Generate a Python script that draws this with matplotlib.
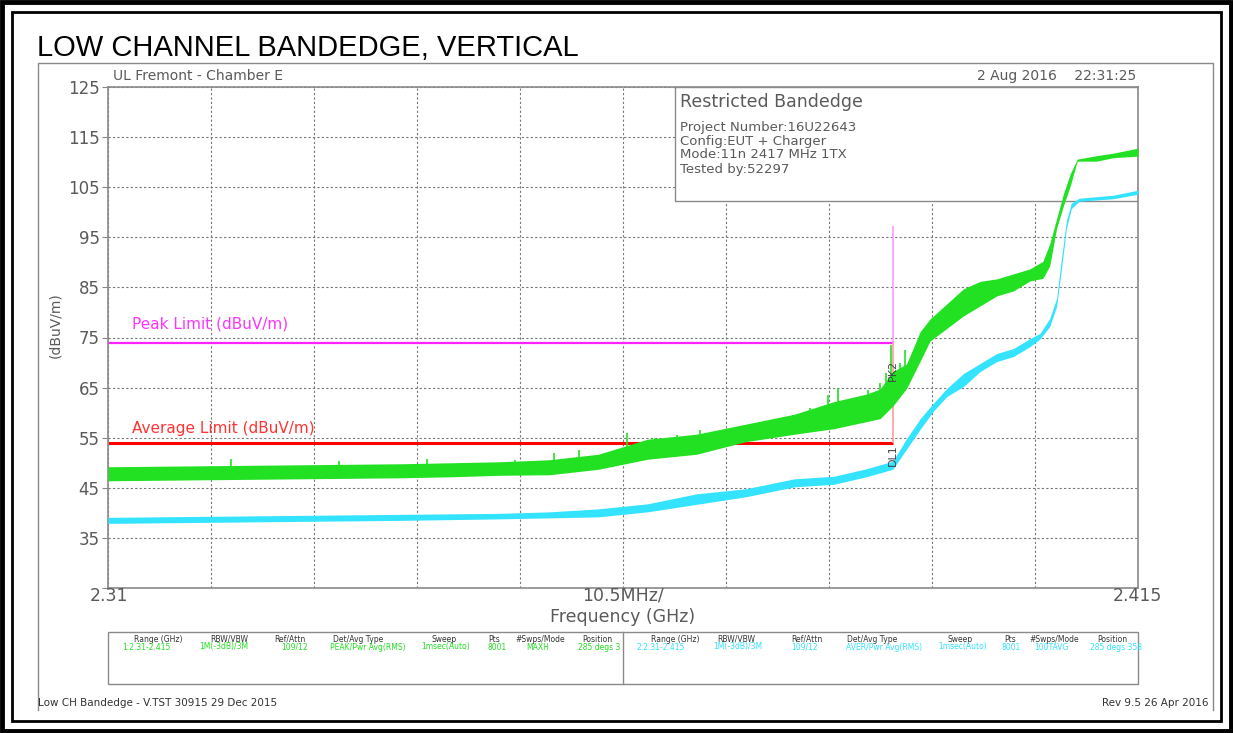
import numpy as np
import matplotlib.pyplot as plt
from matplotlib.patches import Rectangle
from matplotlib.lines import Line2D

# peak trace (green) band: lower / upper edge
peak_freq = [2.310, 2.315, 2.320, 2.325, 2.330, 2.335, 2.340, 2.345, 2.350, 2.355,
             2.360, 2.365, 2.370, 2.375, 2.380, 2.384, 2.3873, 2.3887, 2.390, 2.3914,
             2.3928, 2.3938, 2.3955, 2.3972, 2.3989, 2.4006, 2.4023, 2.404, 2.4053, 2.406,
             2.4067, 2.4074, 2.4081, 2.4088, 2.4108, 2.4125, 2.415]
peak_lo = [46.4, 46.5, 46.6, 46.7, 46.8, 46.9, 47.0, 47.2, 47.5, 47.6,
           48.7, 50.7, 51.7, 54.2, 55.7, 56.8, 58.2, 58.8, 61.3, 64.8,
           70.3, 74.3, 76.8, 79.3, 81.3, 83.3, 84.3, 86.3, 86.8, 89.3,
           96.8, 101.3, 105.3, 110.2, 110.2, 110.9, 111.2]
peak_hi = [49.2, 49.3, 49.4, 49.5, 49.6, 49.7, 49.8, 50.0, 50.2, 50.6,
           51.7, 54.7, 55.7, 57.7, 59.7, 62.2, 63.7, 64.7, 68.2, 69.7,
           76.2, 78.7, 81.7, 84.7, 86.2, 86.7, 87.7, 88.7, 90.2, 93.7,
           98.7, 103.7, 107.7, 110.6, 111.3, 111.8, 112.8]
# isolated spikes above the green band
spike_freq = [2.3225, 2.3335, 2.3425, 2.3515, 2.3555, 2.358, 2.3629, 2.3658, 2.368, 2.3704,
              2.374, 2.3775, 2.3798, 2.3816, 2.3834, 2.3844, 2.3863, 2.3875, 2.3887, 2.3893,
              2.3898, 2.3907, 2.3912]
spike_top = [50.7, 50.3, 50.8, 50.5, 52.0, 52.5, 56.0, 55.0, 55.5, 56.5,
             57.0, 58.0, 59.5, 61.0, 63.5, 65.0, 62.5, 64.5, 66.0, 68.0,
             73.5, 70.0, 72.5]

# average trace (cyan)
avg_freq = [2.310, 2.320, 2.330, 2.340, 2.350, 2.355, 2.360, 2.365, 2.370, 2.375,
            2.380, 2.384, 2.3873, 2.390, 2.3914, 2.3928, 2.3941, 2.3955, 2.3972, 2.3989,
            2.4006, 2.4023, 2.404, 2.405, 2.406, 2.4067, 2.4072, 2.4077, 2.4082, 2.409,
            2.4125, 2.415]
avg_lo = [37.9, 38.1, 38.3, 38.5, 38.8, 39.0, 39.2, 40.2, 41.7, 43.2,
          45.2, 45.7, 47.2, 48.7, 52.7, 56.7, 60.2, 63.2, 65.2, 68.2,
          70.2, 71.2, 73.2, 74.7, 77.2, 81.2, 88.7, 96.7, 100.7, 102.2,
          102.7, 103.6]
avg_hi = [39.1, 39.3, 39.5, 39.7, 39.9, 40.2, 40.8, 41.8, 43.8, 44.8,
          46.8, 47.3, 48.8, 50.3, 54.8, 58.8, 61.8, 64.8, 67.8, 69.8,
          71.8, 72.8, 74.8, 75.8, 78.8, 82.8, 90.8, 98.3, 101.8, 102.8,
          103.4, 104.4]

peak_limit = 74
avg_limit = 54
band_edge = 2.39
y_ticks = list(range(25, 126, 10))

left_cols = [("Range (GHz)", "1:2.31-2.415", 158, 146), ("RBW/VBW", "1M(-3dB)/3M", 229, 224),
             ("Ref/Attn", "109/12", 290, 295), ("Det/Avg Type", "PEAK/Pwr Avg(RMS)", 358, 368),
             ("Sweep", "1msec(Auto)", 444, 446), ("Pts", "8001", 494, 497),
             ("#Swps/Mode", "MAXH", 540, 538), ("Position", "285 degs 3", 597, 599)]
right_cols = [("Range (GHz)", "2:2.31-2.415", 675, 661), ("RBW/VBW", "1M(-3dB)/3M", 736, 738),
              ("Ref/Attn", "109/12", 807, 805), ("Det/Avg Type", "AVER/Pwr Avg(RMS)", 872, 884),
              ("Sweep", "1msec(Auto)", 960, 963), ("Pts", "8001", 1010, 1011),
              ("#Swps/Mode", "100TAVG", 1054, 1051), ("Position", "285 degs 358", 1112, 1116)]

W, H = 1233, 733
GREEN = "#22e022"
CYAN = "#33e3ff"
GREY = "#5a5a5a"


def fx(x):
    return x / W


def fy(y):
    return 1 - y / H


fig = plt.figure(figsize=(W / 100, H / 100), dpi=100)
fig.patch.set_facecolor("white")

# black double border
fig.patches.append(Rectangle((fx(2), fy(731)), fx(1229), 729 / H, transform=fig.transFigure,
                             fill=False, ec="black", lw=3.5))
fig.patches.append(Rectangle((fx(12), fy(721)), fx(1209), 709 / H, transform=fig.transFigure,
                             fill=False, ec="black", lw=2))
# grey panel frame
fig.lines.append(Line2D([fx(38), fx(38), fx(1213), fx(1213)], [fy(710), fy(63), fy(63), fy(710)],
                        transform=fig.transFigure, color="#8a8a8a", lw=1))

fig.text(fx(37), fy(48), "LOW CHANNEL BANDEDGE, VERTICAL", family="Liberation Sans",
         fontsize=21, va="center", ha="left", color="black")

ax = fig.add_axes([fx(108), fy(588), 1030 / W, 501 / H])
ax.set_xlim(2.31, 2.415)
ax.set_ylim(25, 125)
ax.set_xticks(np.linspace(2.31, 2.415, 11))
ax.set_xticklabels([])
ax.set_yticks(y_ticks)
ax.set_yticklabels(["" if v == 25 else str(v) for v in y_ticks], fontsize=12, color=GREY)
ax.tick_params(axis="y", length=4, color="#888888", pad=2)
ax.tick_params(axis="x", length=0)
ax.set_axisbelow(True)
ax.grid(color="#777777", ls=(0, (2, 2)), lw=0.8)
for s in ax.spines.values():
    s.set_color("#8a8a8a")
    s.set_linewidth(1.2)

# info box in the upper right corner
ax.add_patch(Rectangle(((675 - 108) / 1030, (588 - 201) / 501), 463 / 1030, 114 / 501,
                       transform=ax.transAxes, fc="white", ec="#8a8a8a", lw=1, zorder=1.5))

# limits
ax.hlines(peak_limit, 2.31, band_edge, color="#ff22ff", lw=1.6, zorder=2)
ax.hlines(avg_limit, 2.31, band_edge, color="#ff0000", lw=2.2, zorder=2)
ax.text(2.3124, 77.6, "Peak Limit (dBuV/m)", color="#ff33ff", fontsize=11, va="center")
ax.text(2.3124, 56.8, "Average Limit (dBuV/m)", color="#ff3333", fontsize=11, va="center")
ax.vlines(band_edge, peak_limit, 97.2, color="#ff99ff", lw=1.2, zorder=2)
ax.vlines(band_edge, avg_limit, peak_limit, color="#ff9c9c", lw=1.2, zorder=2)

# traces
ax.fill_between(avg_freq, avg_lo, avg_hi, color=CYAN, lw=0, zorder=3)
ax.fill_between(peak_freq, peak_lo, peak_hi, color=GREEN, lw=0, zorder=3)
spike_base = np.interp(spike_freq, peak_freq, peak_lo)
ax.vlines(spike_freq, spike_base, spike_top, color=GREEN, lw=1.2, zorder=3)

# marker labels sit on the band edge line
ax.text(band_edge, 68.5, "PK2", rotation=90, fontsize=8, color="#444444",
        ha="center", va="center", zorder=4)
ax.text(band_edge, 51.5, "DL1", rotation=90, fontsize=8, color="#444444",
        ha="center", va="center", zorder=4)

# header texts
fig.text(fx(113), fy(76), "UL Fremont - Chamber E", fontsize=10, color=GREY, va="center")
fig.text(fx(1136), fy(76), "2 Aug 2016    22:31:25", fontsize=10, color=GREY, va="center", ha="right")
fig.text(fx(680), fy(102), "Restricted Bandedge", fontsize=12.5, color=GREY, va="center")
for i, line in enumerate(["Project Number:16U22643", "Config:EUT + Charger",
                          "Mode:11n 2417 MHz 1TX", "Tested by:52297"]):
    fig.text(fx(680), fy(127 + 14 * i), line, fontsize=9.5, color=GREY, va="center")

# axis texts
fig.text(fx(55), fy(325), "(dBuV/m)", rotation=90, fontsize=10, color=GREY, va="center", ha="center")
fig.text(fx(109), fy(596), "2.31", fontsize=12.5, color=GREY, va="center", ha="center")
fig.text(fx(623), fy(596), "10.5MHz/", fontsize=12.5, color=GREY, va="center", ha="center")
fig.text(fx(1137), fy(596), "2.415", fontsize=12.5, color=GREY, va="center", ha="center")
fig.text(fx(623), fy(617), "Frequency (GHz)", fontsize=12.5, color=GREY, va="center", ha="center")

# settings table
fig.patches.append(Rectangle((fx(108), fy(684)), 1030 / W, 52 / H, transform=fig.transFigure,
                             fill=False, ec="#8a8a8a", lw=1))
fig.lines.append(Line2D([fx(623), fx(623)], [fy(684), fy(632)], transform=fig.transFigure,
                        color="#8a8a8a", lw=1))
for cols, colr in [(left_cols, GREEN), (right_cols, CYAN)]:
    for head, val, xh, xv in cols:
        fig.text(fx(xh), fy(639), head, fontsize=5.5, color="#333333", ha="center", va="center")
        fig.text(fx(xv), fy(647), val, fontsize=5.5, color=colr, ha="center", va="center")

# footer
fig.text(fx(38), fy(703), "Low CH Bandedge - V.TST 30915 29 Dec 2015", fontsize=7.5,
         color="#333333", va="center")
fig.text(fx(1208), fy(703), "Rev 9.5 26 Apr 2016", fontsize=7.5, color="#333333",
         va="center", ha="right")

fig.savefig("out.png", dpi=100)
